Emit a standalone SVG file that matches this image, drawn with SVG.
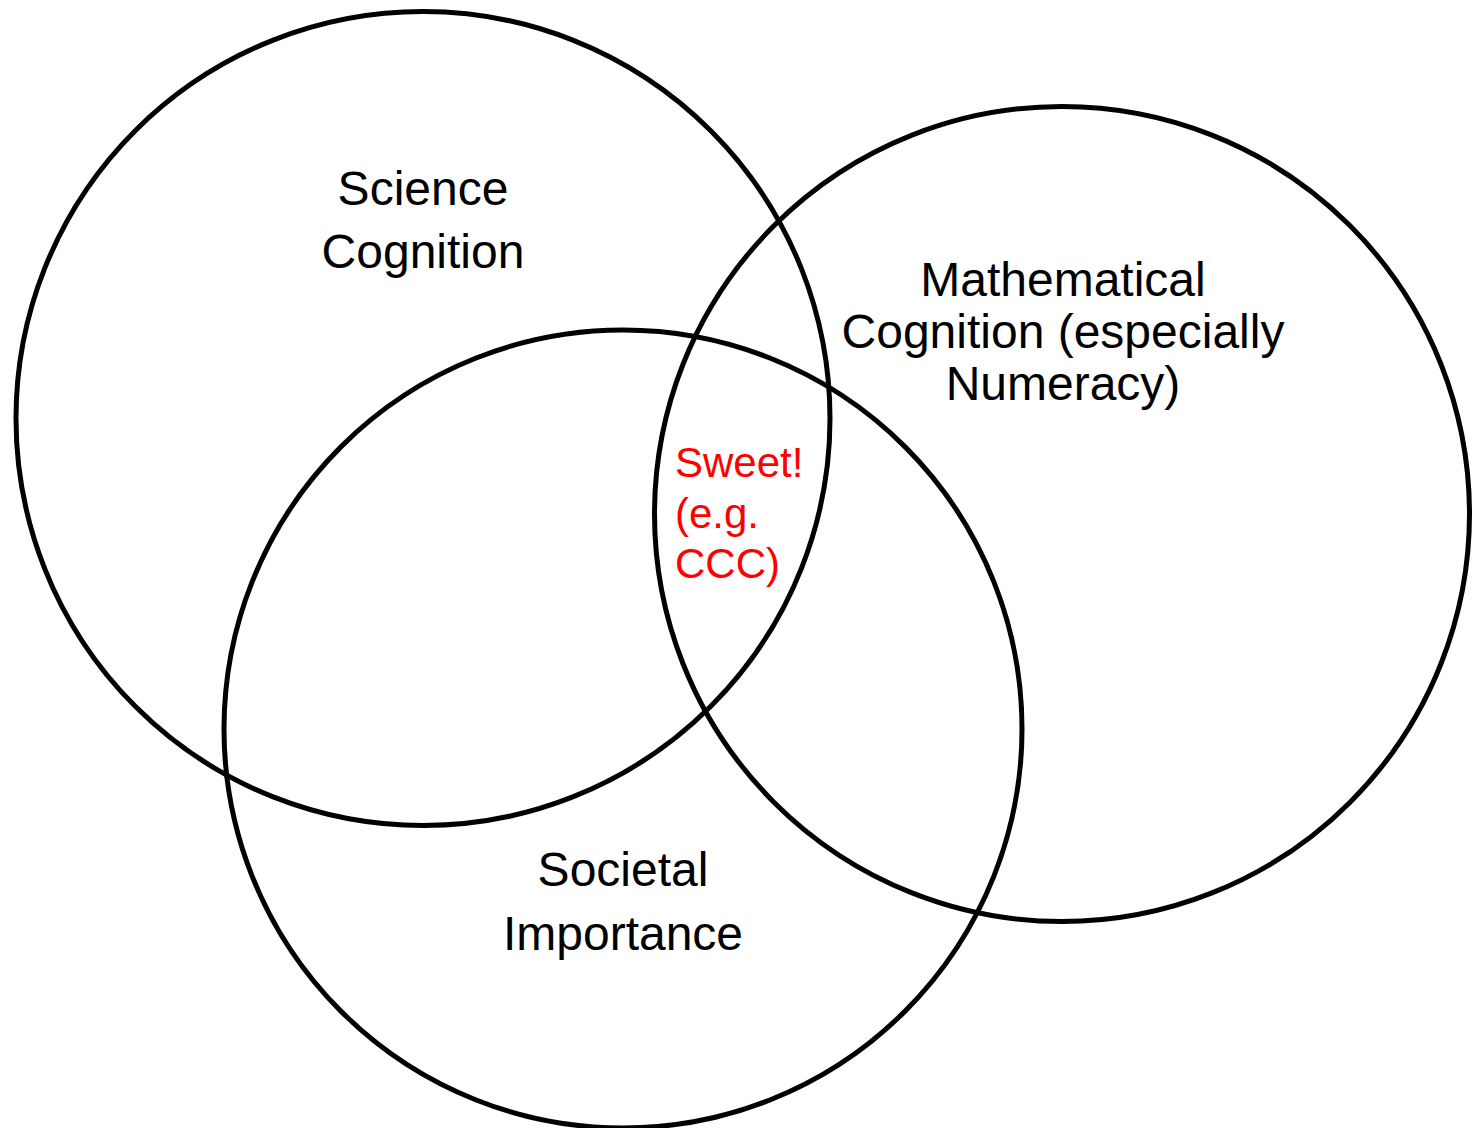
<svg xmlns="http://www.w3.org/2000/svg" width="1472" height="1128" viewBox="0 0 1472 1128">
<style>
.c{fill:none;stroke:#000;stroke-width:5}
.t{font-family:"Liberation Sans",Arial,sans-serif;font-size:48px;fill:#000;text-anchor:middle}
.r{font-family:"Liberation Sans",Arial,sans-serif;font-size:42px;fill:#f00}
</style>
<rect width="1472" height="1128" fill="#fff"/>
<g id="science">
<circle class="c" cx="423" cy="418.5" r="407"/>
<text class="t" x="423" y="205">Science</text>
<text class="t" x="423" y="268">Cognition</text>
</g>
<g id="math">
<circle class="c" cx="1062" cy="514" r="407.5"/>
<text class="t" x="1063" y="296">Mathematical</text>
<text class="t" x="1063" y="348">Cognition (especially</text>
<text class="t" x="1063" y="400">Numeracy)</text>
</g>
<g id="societal">
<circle class="c" cx="623" cy="729" r="399"/>
<text class="t" x="623" y="886">Societal</text>
<text class="t" x="623" y="950">Importance</text>
</g>
<g id="sweet">
<text class="r" x="675" y="477">Sweet!</text>
<text class="r" x="675" y="528">(e.g.</text>
<text class="r" x="675" y="578">CCC)</text>
</g>
<g id="connectors"></g>
</svg>
